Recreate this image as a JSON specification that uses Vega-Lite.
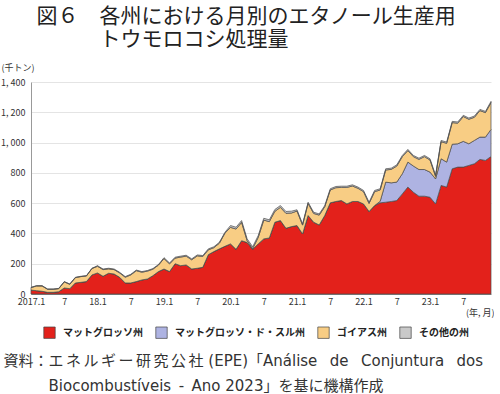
{
  "$schema": "https://vega.github.io/schema/vega-lite/v6.json",
  "background": "white",
  "padding": {"left": 0, "right": 0, "top": 6, "bottom": 0},
  "title": {
    "text": ["図６　各州における月別のエタノール生産用", "\u200b　　　トウモロコシ処理量"],
    "anchor": "start", "frame": "bounds",
    "font": "Noto Sans CJK JP", "fontSize": 21, "fontWeight": "normal", "color": "#222",
    "lineHeight": 23, "dx": 36, "offset": 13
  },
  "vconcat": [{
    "width": 460, "height": 212,
    "title": {
      "text": ["資料：エ\u2006ネ\u2006ル\u2006ギ\u2006ー\u2006研\u2006究\u2006公\u2006社 (EPE)「Análise\u2002\u2004de\u2002\u2004Conjuntura\u2002\u2004dos", "\u200b　　　Biocombustíveis\u2002-\u2002Ano 2023」を基に機構作成"],
      "orient": "bottom", "anchor": "start", "frame": "bounds",
      "font": "DejaVu Sans, Noto Sans CJK JP", "fontSize": 15, "fontWeight": "normal", "color": "#333",
      "lineHeight": 25, "dx": 3, "offset": 37
    },
    "data": {"values": [
      {"m":"2017-01","マットグロッソ州":26,"マットグロッソ・ド・スル州":0,"ゴイアス州":16,"その他の州":2},
      {"m":"2017-02","マットグロッソ州":22,"マットグロッソ・ド・スル州":0,"ゴイアス州":31,"その他の州":2},
      {"m":"2017-03","マットグロッソ州":18,"マットグロッソ・ド・スル州":0,"ゴイアス州":35,"その他の州":2},
      {"m":"2017-04","マットグロッソ州":11,"マットグロッソ・ド・スル州":0,"ゴイアス州":20,"その他の州":2},
      {"m":"2017-05","マットグロッソ州":11,"マットグロッソ・ド・スル州":0,"ゴイアス州":20,"その他の州":2},
      {"m":"2017-06","マットグロッソ州":15,"マットグロッソ・ド・スル州":0,"ゴイアス州":20,"その他の州":2},
      {"m":"2017-07","マットグロッソ州":40,"マットグロッソ・ド・スル州":0,"ゴイアス州":40,"その他の州":2},
      {"m":"2017-08","マットグロッソ州":35,"マットグロッソ・ド・スル州":0,"ゴイアス州":29,"その他の州":2},
      {"m":"2017-09","マットグロッソ州":73,"マットグロッソ・ド・スル州":0,"ゴイアス州":35,"その他の州":2},
      {"m":"2017-10","マットグロッソ州":77,"マットグロッソ・ド・スル州":0,"ゴイアス州":38,"その他の州":2},
      {"m":"2017-11","マットグロッソ州":82,"マットグロッソ・ド・スル州":0,"ゴイアス州":37,"その他の州":2},
      {"m":"2017-12","マットグロッソ州":126,"マットグロッソ・ド・スル州":0,"ゴイアス州":42,"その他の州":2},
      {"m":"2018-01","マットグロッソ州":139,"マットグロッソ・ド・スル州":0,"ゴイアス州":44,"その他の州":4},
      {"m":"2018-02","マットグロッソ州":117,"マットグロッソ・ド・スル州":0,"ゴイアス州":44,"その他の州":4},
      {"m":"2018-03","マットグロッソ州":137,"マットグロッソ・ド・スル州":0,"ゴイアス州":29,"その他の州":4},
      {"m":"2018-04","マットグロッソ州":132,"マットグロッソ・ド・スル州":0,"ゴイアス州":29,"その他の州":4},
      {"m":"2018-05","マットグロッソ州":110,"マットグロッソ・ド・スル州":0,"ゴイアス州":29,"その他の州":4},
      {"m":"2018-06","マットグロッソ州":73,"マットグロッソ・ド・スル州":0,"ゴイアス州":38,"その他の州":4},
      {"m":"2018-07","マットグロッソ州":73,"マットグロッソ・ド・スル州":0,"ゴイアス州":53,"その他の州":4},
      {"m":"2018-08","マットグロッソ州":82,"マットグロッソ・ド・スル州":0,"ゴイアス州":72,"その他の州":4},
      {"m":"2018-09","マットグロッソ州":93,"マットグロッソ・ド・スル州":0,"ゴイアス州":51,"その他の州":4},
      {"m":"2018-10","マットグロッソ州":99,"マットグロッソ・ド・スル州":0,"ゴイアス州":52,"その他の州":4},
      {"m":"2018-11","マットグロッソ州":121,"マットグロッソ・ド・スル州":0,"ゴイアス州":43,"その他の州":4},
      {"m":"2018-12","マットグロッソ州":148,"マットグロッソ・ド・スル州":0,"ゴイアス州":43,"その他の州":4},
      {"m":"2019-01","マットグロッソ州":165,"マットグロッソ・ド・スル州":0,"ゴイアス州":69,"その他の州":6},
      {"m":"2019-02","マットグロッソ州":148,"マットグロッソ・ド・スル州":0,"ゴイアス州":51,"その他の州":6},
      {"m":"2019-03","マットグロッソ州":200,"マットグロッソ・ド・スル州":0,"ゴイアス州":37,"その他の州":6},
      {"m":"2019-04","マットグロッソ州":187,"マットグロッソ・ド・スル州":0,"ゴイアス州":57,"その他の州":6},
      {"m":"2019-05","マットグロッソ州":192,"マットグロッソ・ド・スル州":0,"ゴイアス州":58,"その他の州":6},
      {"m":"2019-06","マットグロッソ州":165,"マットグロッソ・ド・スル州":0,"ゴイアス州":61,"その他の州":6},
      {"m":"2019-07","マットグロッソ州":170,"マットグロッソ・ド・スル州":0,"ゴイアス州":82,"その他の州":6},
      {"m":"2019-08","マットグロッソ州":176,"マットグロッソ・ド・スル州":0,"ゴイアス州":72,"その他の州":6},
      {"m":"2019-09","マットグロッソ州":260,"マットグロッソ・ド・スル州":0,"ゴイアス州":32,"その他の州":6},
      {"m":"2019-10","マットグロッソ州":280,"マットグロッソ・ド・スル州":0,"ゴイアス州":26,"その他の州":6},
      {"m":"2019-11","マットグロッソ州":298,"マットグロッソ・ド・スル州":0,"ゴイアス州":38,"その他の州":6},
      {"m":"2019-12","マットグロッソ州":315,"マットグロッソ・ド・スル州":0,"ゴイアス州":87,"その他の州":6},
      {"m":"2020-01","マットグロッソ州":331,"マットグロッソ・ド・スル州":0,"ゴイアス州":109,"その他の州":12},
      {"m":"2020-02","マットグロッソ州":295,"マットグロッソ・ド・スル州":0,"ゴイアス州":134,"その他の州":12},
      {"m":"2020-03","マットグロッソ州":352,"マットグロッソ・ド・スル州":0,"ゴイアス州":121,"その他の州":12},
      {"m":"2020-04","マットグロッソ州":340,"マットグロッソ・ド・スル州":0,"ゴイアス州":12,"その他の州":12},
      {"m":"2020-05","マットグロッソ州":295,"マットグロッソ・ド・スル州":0,"ゴイアス州":5,"その他の州":12},
      {"m":"2020-06","マットグロッソ州":331,"マットグロッソ・ド・スル州":0,"ゴイアス州":43,"その他の州":12},
      {"m":"2020-07","マットグロッソ州":364,"マットグロッソ・ド・スル州":0,"ゴイアス州":124,"その他の州":12},
      {"m":"2020-08","マットグロッソ州":370,"マットグロッソ・ド・スル州":0,"ゴイアス州":108,"その他の州":12},
      {"m":"2020-09","マットグロッソ州":474,"マットグロッソ・ド・スル州":0,"ゴイアス州":72,"その他の州":12},
      {"m":"2020-10","マットグロッソ州":485,"マットグロッソ・ド・スル州":0,"ゴイアス州":87,"その他の州":12},
      {"m":"2020-11","マットグロッソ州":434,"マットグロッソ・ド・スル州":0,"ゴイアス州":99,"その他の州":12},
      {"m":"2020-12","マットグロッソ州":445,"マットグロッソ・ド・スル州":0,"ゴイアス州":90,"その他の州":12},
      {"m":"2021-01","マットグロッソ州":452,"マットグロッソ・ド・スル州":0,"ゴイアス州":96,"その他の州":8},
      {"m":"2021-02","マットグロッソ州":397,"マットグロッソ・ド・スル州":0,"ゴイアス州":58,"その他の州":8},
      {"m":"2021-03","マットグロッソ州":518,"マットグロッソ・ド・スル州":0,"ゴイアス州":80,"その他の州":8},
      {"m":"2021-04","マットグロッソ州":474,"マットグロッソ・ド・スル州":0,"ゴイアス州":58,"その他の州":8},
      {"m":"2021-05","マットグロッソ州":456,"マットグロッソ・ド・スル州":0,"ゴイアス州":65,"その他の州":8},
      {"m":"2021-06","マットグロッソ州":518,"マットグロッソ・ド・スル州":0,"ゴイアス州":58,"その他の州":8},
      {"m":"2021-07","マットグロッソ州":602,"マットグロッソ・ド・スル州":0,"ゴイアス州":85,"その他の州":8},
      {"m":"2021-08","マットグロッソ州":611,"マットグロッソ・ド・スル州":0,"ゴイアス州":91,"その他の州":8},
      {"m":"2021-09","マットグロッソ州":617,"マットグロッソ・ド・スル州":0,"ゴイアス州":87,"その他の州":8},
      {"m":"2021-10","マットグロッソ州":595,"マットグロッソ・ド・スル州":0,"ゴイアス州":109,"その他の州":8},
      {"m":"2021-11","マットグロッソ州":611,"マットグロッソ・ド・スル州":0,"ゴイアス州":102,"その他の州":8},
      {"m":"2021-12","マットグロッソ州":611,"マットグロッソ・ド・スル州":0,"ゴイアス州":87,"その他の州":8},
      {"m":"2022-01","マットグロッソ州":595,"マットグロッソ・ド・スル州":0,"ゴイアス州":81,"その他の州":8},
      {"m":"2022-02","マットグロッソ州":545,"マットグロッソ・ド・スル州":0,"ゴイアス州":53,"その他の州":8},
      {"m":"2022-03","マットグロッソ州":584,"マットグロッソ・ド・スル州":0,"ゴイアス州":92,"その他の州":8},
      {"m":"2022-04","マットグロッソ州":602,"マットグロッソ・ド・スル州":10,"ゴイアス州":75,"その他の州":8},
      {"m":"2022-05","マットグロッソ州":606,"マットグロッソ・ド・スル州":133,"ゴイアス州":80,"その他の州":8},
      {"m":"2022-06","マットグロッソ州":611,"マットグロッソ・ド・スル州":123,"ゴイアス州":89,"その他の州":8},
      {"m":"2022-07","マットグロッソ州":617,"マットグロッソ・ド・スル州":122,"ゴイアス州":106,"その他の州":8},
      {"m":"2022-08","マットグロッソ州":661,"マットグロッソ・ド・スル州":133,"ゴイアス州":113,"その他の州":8},
      {"m":"2022-09","マットグロッソ州":706,"マットグロッソ・ド・スル州":165,"ゴイアス州":76,"その他の州":8},
      {"m":"2022-10","マットグロッソ州":672,"マットグロッソ・ド・スル州":173,"ゴイアス州":62,"その他の州":8},
      {"m":"2022-11","マットグロッソ州":646,"マットグロッソ・ド・スル州":176,"ゴイアス州":67,"その他の州":8},
      {"m":"2022-12","マットグロッソ州":646,"マットグロッソ・ド・スル州":176,"ゴイアス州":85,"その他の州":8},
      {"m":"2023-01","マットグロッソ州":639,"マットグロッソ・ド・スル州":166,"ゴイアス州":80,"その他の州":8},
      {"m":"2023-02","マットグロッソ州":595,"マットグロッソ・ド・スル州":165,"ゴイアス州":17,"その他の州":8},
      {"m":"2023-03","マットグロッソ州":717,"マットグロッソ・ド・スル州":176,"ゴイアス州":113,"その他の州":8},
      {"m":"2023-04","マットグロッソ州":706,"マットグロッソ・ド・スル州":165,"ゴイアス州":124,"その他の州":8},
      {"m":"2023-05","マットグロッソ州":827,"マットグロッソ・ド・スル州":162,"ゴイアス州":143,"その他の州":8},
      {"m":"2023-06","マットグロッソ州":838,"マットグロッソ・ド・スル州":154,"ゴイアス州":136,"その他の州":8},
      {"m":"2023-07","マットグロッソ州":838,"マットグロッソ・ド・スル州":170,"ゴイアス州":164,"その他の州":8},
      {"m":"2023-08","マットグロッソ州":849,"マットグロッソ・ド・スル州":143,"ゴイアス州":162,"その他の州":8},
      {"m":"2023-09","マットグロッソ州":860,"マットグロッソ・ド・スル州":154,"ゴイアス州":153,"その他の州":8},
      {"m":"2023-10","マットグロッソ州":889,"マットグロッソ・ド・スル州":147,"ゴイアス州":175,"その他の州":8},
      {"m":"2023-11","マットグロッソ州":882,"マットグロッソ・ド・スル州":154,"ゴイアス州":162,"その他の州":8},
      {"m":"2023-12","マットグロッソ州":908,"マットグロッソ・ド・スル州":179,"ゴイアス州":177,"その他の州":8}
    ]},
    "transform": [
      {"fold": ["マットグロッソ州", "マットグロッソ・ド・スル州", "ゴイアス州", "その他の州"], "as": ["state", "value"]}
    ],
    "mark": {"type": "area", "stroke": "#4a4a4a", "strokeWidth": 0.7, "opacity": 1},
    "encoding": {
      "x": {
        "field": "m", "type": "ordinal",
        "scale": {"padding": 0},
        "axis": {
          "values": ["2017-01","2017-07","2018-01","2018-07","2019-01","2019-07","2020-01","2020-07","2021-01","2021-07","2022-01","2022-07","2023-01","2023-07"],
          "labelExpr": "datum.value == '2017-01' ? '2017.1' : (slice(datum.value, 5) == '07' ? '7' : slice(datum.value, 2, 4) + '.1')",
          "labelAngle": 0, "ticks": false, "grid": false,
          "domainColor": "#888", "labelFont": "Noto Sans CJK JP", "labelFontSize": 9, "labelColor": "#333", "labelPadding": 3,
          "title": "(年, 月)", "titleFont": "Noto Sans CJK JP", "titleFontSize": 9, "titleFontWeight": "normal", "titleColor": "#333",
          "titleAnchor": "end", "titleAlign": "right", "titleX": 463, "titleY": 18, "titleBaseline": "middle"
        }
      },
      "y": {
        "field": "value", "type": "quantitative", "stack": "zero",
        "scale": {"domain": [0, 1400], "nice": false},
        "axis": {
          "values": [0, 200, 400, 600, 800, 1000, 1200, 1400], "format": ",d",
          "labelExpr": "replace(datum.label, ',', ', ')",
          "ticks": false, "domain": true, "domainColor": "#999", "gridColor": "#e4e4e4",
          "labelFont": "Noto Sans CJK JP", "labelFontSize": 9, "labelColor": "#333", "labelPadding": 6,
          "title": "(千トン)", "titleAngle": 0, "titleAlign": "left", "titleBaseline": "middle",
          "titleX": -30, "titleY": -15, "titleFont": "Noto Sans CJK JP", "titleFontSize": 9, "titleFontWeight": "normal", "titleColor": "#333"
        }
      },
      "color": {
        "field": "state", "type": "nominal",
        "scale": {"domain": ["マットグロッソ州", "マットグロッソ・ド・スル州", "ゴイアス州", "その他の州"], "range": ["#e3211b", "#aeb3e2", "#f8cd84", "#c9c9c9"]},
        "legend": {
          "orient": "none", "legendX": 12, "legendY": 244, "direction": "horizontal", "title": null,
          "symbolType": "square", "symbolSize": 130, "symbolStrokeColor": "#444", "symbolStrokeWidth": 0.7, "symbolOpacity": 1,
          "labelFont": "Noto Sans CJK JP", "labelFontSize": 10, "labelFontWeight": "bold", "labelColor": "#222",
          "columnPadding": 11, "labelOffset": 7
        }
      },
      "order": {"field": "state", "type": "nominal", "sort": "descending"}
    }
  }],
  "config": {"view": {"stroke": null}, "concat": {"spacing": 0}}
}
